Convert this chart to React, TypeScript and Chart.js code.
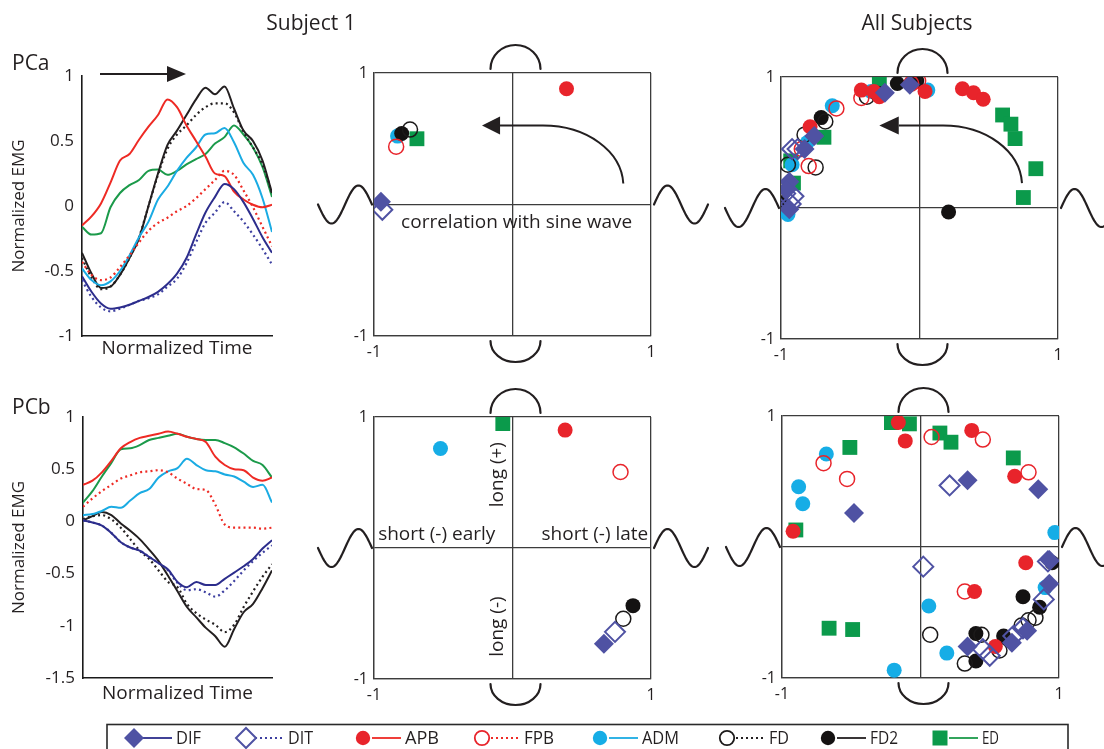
import React, { useEffect, useRef } from 'react';
import { Chart, registerables } from 'chart.js';

Chart.register(...registerables);

const FONT = '"Open Sans", "Noto Sans", "DejaVu Sans", sans-serif';
Chart.defaults.font.family = FONT;
Chart.defaults.color = '#231f20';
const INK = '#231f20';

// ---------------- data ----------------
const MUSCLES = ['DIF', 'DIT', 'APB', 'FPB', 'ADM', 'FD', 'FD2', 'ED'];
const TIME = [0, 0.05, 0.1, 0.15, 0.2, 0.25, 0.3, 0.35, 0.4, 0.45, 0.5, 0.55, 0.6, 0.65, 0.7, 0.75, 0.8, 0.85, 0.9, 0.95, 1];
const COLUMN_TITLES = ['Subject 1', 'All Subjects'];
const ROW_LABELS = ['PCa', 'PCb'];

// PCa waveforms (Subject 1)
const PCA_DIF = [-0.54, -0.66, -0.75, -0.79, -0.78, -0.76, -0.73, -0.7, -0.66, -0.6, -0.52, -0.4, -0.22, -0.05, 0.07, 0.17, 0.13, 0.03, -0.1, -0.24, -0.36];
const PCA_DIT = [-0.57, -0.7, -0.78, -0.81, -0.79, -0.76, -0.73, -0.71, -0.68, -0.62, -0.56, -0.44, -0.28, -0.13, -0.05, 0.03, -0.04, -0.12, -0.22, -0.33, -0.45];
const PCA_APB = [-0.15, -0.08, 0.02, 0.18, 0.35, 0.4, 0.51, 0.61, 0.7, 0.82, 0.76, 0.62, 0.5, 0.38, 0.25, 0.23, 0.11, 0.05, 0.01, -0.01, 0.01];
const PCA_FPB = [-0.43, -0.53, -0.57, -0.55, -0.47, -0.38, -0.28, -0.19, -0.13, -0.09, -0.04, 0.0, 0.06, 0.13, 0.2, 0.27, 0.24, 0.12, -0.01, -0.16, -0.31];
const PCA_ADM = [-0.48, -0.57, -0.61, -0.58, -0.5, -0.38, -0.24, -0.12, 0.05, 0.15, 0.27, 0.37, 0.45, 0.55, 0.56, 0.6, 0.49, 0.33, 0.24, 0.06, -0.2];
const PCA_FD = [-0.4, -0.55, -0.64, -0.62, -0.53, -0.4, -0.24, 0.0, 0.24, 0.44, 0.55, 0.62, 0.7, 0.76, 0.79, 0.79, 0.72, 0.57, 0.45, 0.32, 0.1];
const PCA_FD2 = [-0.36, -0.52, -0.63, -0.62, -0.53, -0.4, -0.25, 0.0, 0.25, 0.47, 0.58, 0.7, 0.82, 0.91, 0.86, 0.92, 0.75, 0.58, 0.5, 0.35, 0.1];
const PCA_ED = [-0.16, -0.22, -0.21, -0.01, 0.1, 0.16, 0.2, 0.27, 0.28, 0.24, 0.27, 0.32, 0.36, 0.4, 0.48, 0.53, 0.62, 0.55, 0.45, 0.3, 0.07];

// PCb waveforms (Subject 1)
const PCB_DIF = [0.01, -0.01, -0.04, -0.11, -0.2, -0.25, -0.28, -0.34, -0.4, -0.46, -0.58, -0.63, -0.58, -0.61, -0.61, -0.55, -0.49, -0.43, -0.36, -0.26, -0.18];
const PCB_DIT = [0.01, -0.01, -0.04, -0.11, -0.2, -0.25, -0.28, -0.34, -0.4, -0.47, -0.59, -0.66, -0.65, -0.68, -0.72, -0.66, -0.57, -0.47, -0.38, -0.3, -0.23];
const PCB_APB = [0.35, 0.39, 0.47, 0.58, 0.7, 0.76, 0.8, 0.82, 0.84, 0.86, 0.84, 0.81, 0.79, 0.76, 0.62, 0.54, 0.5, 0.49, 0.42, 0.39, 0.42];
const PCB_FPB = [0.14, 0.22, 0.29, 0.35, 0.41, 0.44, 0.47, 0.48, 0.49, 0.47, 0.41, 0.36, 0.31, 0.3, 0.16, -0.03, -0.06, -0.06, -0.06, -0.07, -0.06];
const PCB_ADM = [0.06, 0.07, 0.1, 0.14, 0.13, 0.2, 0.27, 0.31, 0.42, 0.48, 0.51, 0.6, 0.54, 0.49, 0.48, 0.45, 0.43, 0.38, 0.33, 0.35, 0.18];
const PCB_FD = [0.02, 0.05, 0.06, 0.02, -0.06, -0.17, -0.28, -0.36, -0.47, -0.58, -0.63, -0.79, -0.88, -0.94, -0.99, -1.06, -0.99, -0.82, -0.67, -0.53, -0.41];
const PCB_FD2 = [0.01, 0.05, 0.09, 0.06, -0.02, -0.09, -0.17, -0.27, -0.38, -0.52, -0.67, -0.82, -0.92, -1.02, -1.1, -1.2, -1.03, -0.87, -0.79, -0.64, -0.47];
const PCB_ED = [0.18, 0.29, 0.43, 0.56, 0.69, 0.7, 0.73, 0.78, 0.8, 0.82, 0.84, 0.81, 0.79, 0.78, 0.78, 0.75, 0.71, 0.65, 0.58, 0.54, 0.42];

// Subject 1, PCa: [correlation with sine, correlation with half-wave]
const S1A_DIF = [[-0.95, 0.02]];
const S1A_DIT = [[-0.94, -0.04]];
const S1A_APB = [[0.39, 0.88]];
const S1A_FPB = [[-0.84, 0.44]];
const S1A_ADM = [[-0.83, 0.52]];
const S1A_FD = [[-0.74, 0.57]];
const S1A_FD2 = [[-0.8, 0.54]];
const S1A_ED = [[-0.69, 0.5]];

// Subject 1, PCb
const S1B_DIF = [[0.66, -0.73]];
const S1B_DIT = [[0.74, -0.64]];
const S1B_APB = [[0.38, 0.9]];
const S1B_FPB = [[0.78, 0.58]];
const S1B_ADM = [[-0.52, 0.76]];
const S1B_FD = [[0.8, -0.54]];
const S1B_FD2 = [[0.87, -0.44]];
const S1B_ED = [[-0.07, 0.95]];

// All subjects, PCa
const ALLA_DIF = [[-0.25, 0.88], [-0.76, 0.55], [-0.83, 0.45], [-0.94, 0.2], [-0.94, -0.01], [-0.07, 0.94], [-0.96, 0.14]];
const ALLA_DIT = [[-0.92, 0.45], [-0.97, 0.11], [-0.91, 0.09], [-0.93, 0.03], [-0.88, 0.45]];
const ALLA_APB = [[0.31, 0.91], [0.39, 0.88], [0.46, 0.83], [-0.42, 0.9], [-0.29, 0.85], [0.04, 0.89], [-0.79, 0.62], [-0.33, 0.89]];
const ALLA_FPB = [[-0.42, 0.84], [-0.01, 0.97], [-0.6, 0.76], [-0.8, 0.32], [-0.85, 0.45], [-0.06, 0.95]];
const ALLA_ADM = [[-0.63, 0.78], [-0.35, 0.89], [0.06, 0.9], [-0.95, -0.05], [-0.81, 0.5], [-0.92, 0.33]];
const ALLA_FD = [[-0.3, 0.87], [-0.38, 0.85], [-0.68, 0.66], [-0.83, 0.56], [-0.75, 0.31], [-0.95, 0.33], [-0.04, 0.97]];
const ALLA_FD2 = [[-0.16, 0.95], [-0.02, 0.97], [-0.71, 0.69], [0.21, -0.03], [-0.99, 0.04]];
const ALLA_ED = [[-0.29, 0.95], [0.6, 0.71], [0.66, 0.64], [0.69, 0.53], [0.84, 0.3], [0.75, 0.08], [-0.69, 0.54], [-0.91, 0.19], [-0.93, 0.36]];

// All subjects, PCb
const ALLB_DIF = [[-0.48, 0.26], [0.34, 0.51], [0.85, 0.44], [0.93, -0.1], [0.93, -0.28], [0.34, -0.76], [0.66, -0.73], [0.77, -0.64]];
const ALLB_DIT = [[0.21, 0.47], [0.02, -0.15], [0.92, -0.11], [0.89, -0.4], [0.74, -0.62], [0.45, -0.78], [0.5, -0.83], [0.67, -0.68]];
const ALLB_APB = [[-0.16, 0.95], [-0.11, 0.81], [0.37, 0.89], [0.68, 0.54], [-0.92, 0.12], [0.76, -0.12], [0.39, -0.34], [0.54, -0.76]];
const ALLB_FPB = [[0.08, 0.84], [0.45, 0.82], [0.78, 0.57], [-0.7, 0.64], [-0.53, 0.52], [0.32, -0.34]];
const ALLB_ADM = [[-0.68, 0.71], [-0.88, 0.46], [-0.85, 0.33], [0.97, 0.11], [0.06, -0.45], [0.19, -0.81], [-0.19, -0.94], [0.9, -0.31]];
const ALLB_FD = [[0.07, -0.67], [0.32, -0.89], [0.44, -0.67], [0.57, -0.79], [0.78, -0.56], [0.83, -0.54], [0.73, -0.6]];
const ALLB_FD2 = [[0.74, -0.38], [0.86, -0.46], [0.95, -0.12], [0.4, -0.66], [0.6, -0.68], [0.4, -0.87]];
const ALLB_ED = [[-0.21, 0.95], [-0.08, 0.94], [0.14, 0.87], [0.22, 0.8], [-0.51, 0.76], [0.67, 0.68], [-0.9, 0.13], [-0.66, -0.62], [-0.49, -0.63]];

// ---------------- styles ----------------
const MARK_COLOR: Record<string, string> = { DIF: '#4f52a3', DIT: '#4f52a3', APB: '#e8242b', FPB: '#e8242b', ADM: '#16ade6', FD: '#1c1a1a', FD2: '#141212', ED: '#0b9a4b' };
const LINE_COLOR: Record<string, string> = { DIF: '#2c2d8c', DIT: '#3d3fa0', APB: '#ee2a24', FPB: '#ee2a24', ADM: '#1aabe3', FD: '#231f20', FD2: '#231f20', ED: '#1b9a4a' };
const DOTTED: Record<string, boolean> = { DIF: false, DIT: true, APB: false, FPB: true, ADM: false, FD: true, FD2: false, ED: false };
const SHAPE: Record<string, string> = { DIF: 'rectRot', DIT: 'rectRot', APB: 'circle', FPB: 'circle', ADM: 'circle', FD: 'circle', FD2: 'circle', ED: 'rect' };
const FILLED: Record<string, boolean> = { DIF: true, DIT: false, APB: true, FPB: false, ADM: true, FD: false, FD2: true, ED: true };
const RADIUS: Record<string, number> = { rectRot: 10, circle: 7.5, rect: 10.5 };
const DRAW_ORDER: Record<string, number> = { DIF: 0, DIT: 1, FPB: 2, APB: 3, FD: 4, FD2: 5, ADM: 6, ED: 7 };

type Rect = { x: number; y: number; w: number; h: number };
type Box = { l: number; t: number; r: number; b: number };

function frame(rect: Rect, box: Box) {
  return {
    padding: { left: 0, top: box.t - rect.y, right: rect.x + rect.w - box.r, bottom: 0 },
    yW: box.l - rect.x,
    xH: rect.y + rect.h - box.b,
  };
}

function text(ctx: CanvasRenderingContext2D, s: string, x: number, y: number, size: number, align: CanvasTextAlign = 'center', rot = 0) {
  ctx.save();
  ctx.fillStyle = INK;
  ctx.font = `${size}px ${FONT}`;
  ctx.textAlign = align;
  ctx.textBaseline = 'middle';
  ctx.translate(x, y);
  if (rot) ctx.rotate(rot);
  ctx.fillText(s, 0, 0);
  ctx.restore();
}

const tickText = (v: number) => String(v);

function lineConfig(rect: Rect, box: Box, series: number[][], yMin: number, titlePad: number, decor: (c: any) => void) {
  const f = frame(rect, box);
  return {
    type: 'line',
    data: {
      datasets: MUSCLES.map((m, i) => ({
        label: m,
        data: series[i].map((v, k) => ({ x: TIME[k], y: v })),
        borderColor: LINE_COLOR[m],
        borderWidth: DOTTED[m] ? 2.2 : 2,
        borderDash: DOTTED[m] ? [2, 3.2] : [],
        pointRadius: 0,
        cubicInterpolationMode: 'monotone',
        fill: false,
      })),
    },
    options: {
      animation: false,
      responsive: false,
      events: [],
      layout: { padding: f.padding },
      plugins: { legend: { display: false }, tooltip: { enabled: false } },
      scales: {
        x: {
          type: 'linear', min: 0, max: 1,
          ticks: { display: false },
          grid: { display: false, drawTicks: false },
          border: { display: true, color: '#1a1a1a', width: 1.6 },
          title: { display: true, text: 'Normalized Time', font: { size: 19 }, color: INK, padding: { top: 0, bottom: titlePad } },
          afterFit: (s: any) => { s.height = f.xH; },
        },
        y: {
          min: yMin, max: 1,
          ticks: { stepSize: 0.5, padding: 8, font: { size: 17 }, color: INK, callback: tickText },
          grid: { display: false, drawTicks: false },
          border: { display: true, color: '#1a1a1a', width: 1.6 },
          title: { display: true, text: 'Normalized EMG', font: { size: 17 }, color: INK, padding: { top: 9, bottom: 0 } },
          afterFit: (s: any) => { s.width = f.yW; },
        },
      },
    },
    plugins: [{ id: 'decor', afterDraw: (c: any) => decor(c) }],
  };
}

function scatterConfig(rect: Rect, box: Box, pts: number[][][], decor: (c: any) => void) {
  const f = frame(rect, box);
  const axis = (pad: number, fit: (s: any) => void) => ({
    type: 'linear', min: -1, max: 1,
    ticks: { stepSize: 1, padding: pad, font: { size: 16 }, color: INK, callback: (v: number) => (v === 0 ? '' : String(v)) },
    grid: { display: true, color: '#3c3c3c', lineWidth: 1.3, drawTicks: false },
    border: { display: true, color: '#3c3c3c', width: 1.3 },
    afterFit: fit,
  });
  return {
    type: 'scatter',
    data: {
      datasets: MUSCLES.map((m, i) => ({
        label: m,
        data: pts[i].map(([x, y]) => ({ x, y })),
        pointStyle: SHAPE[m],
        pointRadius: RADIUS[SHAPE[m]],
        backgroundColor: FILLED[m] ? MARK_COLOR[m] : 'rgba(255,255,255,0)',
        borderColor: MARK_COLOR[m],
        borderWidth: FILLED[m] ? 0 : (SHAPE[m] === 'rectRot' ? 2 : 1.5),
        order: DRAW_ORDER[m],
      })),
    },
    options: {
      animation: false,
      responsive: false,
      events: [],
      layout: { padding: f.padding },
      plugins: { legend: { display: false }, tooltip: { enabled: false } },
      scales: {
        x: axis(7, (s: any) => { s.height = f.xH; }),
        y: axis(6, (s: any) => { s.width = f.yW; }),
      },
    },
    plugins: [{ id: 'decor', afterDraw: (c: any) => decor(c) }],
  };
}

// waves on the horizontal axis, arcs on the vertical axis
function drawGlyphs(c: any) {
  const { ctx, chartArea: a, scales } = c;
  const y0 = scales.y.getPixelForValue(0);
  const cx = scales.x.getPixelForValue(0);
  const W = 54, A = 19, N = 80;
  ctx.save();
  ctx.strokeStyle = INK;
  ctx.lineWidth = 2.2;
  ctx.lineCap = 'round';
  ctx.beginPath();
  for (let i = 0; i <= N; i++) {
    const t = i / N;
    const px = a.left - 2 - W + W * t;
    const py = y0 + A * Math.sin(2 * Math.PI * t);
    if (i === 0) ctx.moveTo(px, py); else ctx.lineTo(px, py);
  }
  ctx.stroke();
  ctx.beginPath();
  for (let i = 0; i <= N; i++) {
    const t = i / N;
    const px = a.right + 3 + W * t;
    const py = y0 - A * Math.sin(2 * Math.PI * t);
    if (i === 0) ctx.moveTo(px, py); else ctx.lineTo(px, py);
  }
  ctx.stroke();
  ctx.beginPath();
  ctx.ellipse(cx + 3, a.top - 4, 25, 24, 0, Math.PI, 2 * Math.PI);
  ctx.stroke();
  ctx.beginPath();
  ctx.ellipse(cx + 3, a.bottom + 5, 25, 21, 0, 0, Math.PI);
  ctx.stroke();
  ctx.restore();
}

function drawCurvedArrow(c: any, start: number[], bend: number, base: number[], tip: number) {
  const { ctx, scales: { x, y } } = c;
  const sx = x.getPixelForValue(start[0]), sy = y.getPixelForValue(start[1]);
  const ex = x.getPixelForValue(bend), by = y.getPixelForValue(base[1]);
  const bx = x.getPixelForValue(base[0]), tx = x.getPixelForValue(tip);
  const rx = sx - ex, ry = sy - by, k = 0.5523;
  ctx.save();
  ctx.strokeStyle = INK;
  ctx.fillStyle = INK;
  ctx.lineWidth = 2;
  ctx.beginPath();
  ctx.moveTo(sx, sy);
  ctx.bezierCurveTo(sx - 2, sy - k * ry, ex + k * rx, by, ex, by);
  ctx.lineTo(bx, by);
  ctx.stroke();
  ctx.beginPath();
  ctx.moveTo(tx, by);
  ctx.lineTo(bx, by - 9);
  ctx.lineTo(bx, by + 9);
  ctx.closePath();
  ctx.fill();
  ctx.restore();
}

// ---------------- layout ----------------
const RH: Rect = { x: 0, y: 0, w: 1104, h: 40 };
const R1: Rect = { x: 0, y: 40, w: 290, h: 340 };
const R2: Rect = { x: 300, y: 40, w: 410, h: 340 };
const R3: Rect = { x: 710, y: 40, w: 394, h: 340 };
const R4: Rect = { x: 0, y: 380, w: 290, h: 335 };
const R5: Rect = { x: 300, y: 380, w: 410, h: 335 };
const R6: Rect = { x: 710, y: 380, w: 394, h: 335 };
const RL: Rect = { x: 0, y: 712, w: 1104, h: 37 };

const B1: Box = { l: 82, t: 76, r: 272, b: 336 };
const B2: Box = { l: 374, t: 73, r: 651, b: 336 };
const B3: Box = { l: 781, t: 77, r: 1058, b: 339 };
const B4: Box = { l: 83, t: 417, r: 272, b: 678 };
const B5: Box = { l: 374, t: 417, r: 651, b: 679 };
const B6: Box = { l: 782, t: 416, r: 1059, b: 678 };

const LEGEND_X = [134, 246, 363, 482, 600, 727, 828, 940];
const LEGEND_TEXT_W = [25, 25, 34, 30, 37, 20, 28, 17];

function drawMarker(ctx: CanvasRenderingContext2D, m: string, x: number, y: number) {
  ctx.save();
  ctx.fillStyle = MARK_COLOR[m];
  ctx.strokeStyle = MARK_COLOR[m];
  ctx.lineWidth = SHAPE[m] === 'rectRot' ? 2 : 1.8;
  ctx.beginPath();
  if (SHAPE[m] === 'rectRot') {
    const r = 10;
    ctx.moveTo(x, y - r); ctx.lineTo(x + r, y); ctx.lineTo(x, y + r); ctx.lineTo(x - r, y); ctx.closePath();
  } else if (SHAPE[m] === 'rect') {
    ctx.rect(x - 7.5, y - 7.5, 15, 15);
  } else {
    ctx.arc(x, y, 7.2, 0, Math.PI * 2);
  }
  if (FILLED[m]) ctx.fill(); else ctx.stroke();
  ctx.restore();
}

function blankConfig(id: string, draw: (ctx: CanvasRenderingContext2D) => void) {
  return {
    type: 'scatter',
    data: { datasets: [] },
    options: {
      animation: false, responsive: false, events: [],
      plugins: { legend: { display: false }, tooltip: { enabled: false } },
      scales: { x: { display: false }, y: { display: false } },
    },
    plugins: [{ id, afterDraw: (c: any) => draw(c.ctx) }],
  };
}

function drawLegend(ctx: CanvasRenderingContext2D) {
  const oy = RL.y;
  ctx.save();
  ctx.strokeStyle = '#2a2a2a';
  ctx.lineWidth = 1.6;
  ctx.strokeRect(107, 724.5 - oy, 1068 - 107, 60);
  const yc = 738 - oy;
  MUSCLES.forEach((m, i) => {
    const x = LEGEND_X[i];
    ctx.save();
    ctx.strokeStyle = LINE_COLOR[m];
    ctx.lineWidth = 1.8;
    ctx.setLineDash(DOTTED[m] ? [2, 3] : []);
    ctx.beginPath();
    ctx.moveTo(x + 9, yc);
    ctx.lineTo(x + 38, yc);
    ctx.stroke();
    ctx.restore();
    drawMarker(ctx, m, x, yc);
    ctx.fillStyle = INK;
    ctx.font = `19px ${FONT}`;
    ctx.textAlign = 'left';
    ctx.textBaseline = 'middle';
    ctx.fillText(m, x + 42, yc + 1, LEGEND_TEXT_W[i]);
  });
  ctx.restore();
}

function drawHeader(ctx: CanvasRenderingContext2D) {
  text(ctx, COLUMN_TITLES[0], 311, 24, 21);
  text(ctx, COLUMN_TITLES[1], 917, 24, 21);
}

function ChartCanvas({ rect, build }: { rect: Rect; build: () => any }) {
  const ref = useRef<HTMLCanvasElement | null>(null);
  useEffect(() => {
    const chart = new Chart(ref.current as HTMLCanvasElement, build());
    return () => chart.destroy();
  }, []);
  return (
    <canvas
      ref={ref}
      width={rect.w}
      height={rect.h}
      style={{ position: 'absolute', left: rect.x, top: rect.y, width: rect.w, height: rect.h }}
    />
  );
}

export default function App() {
  const pcaSeries = [PCA_DIF, PCA_DIT, PCA_APB, PCA_FPB, PCA_ADM, PCA_FD, PCA_FD2, PCA_ED];
  const pcbSeries = [PCB_DIF, PCB_DIT, PCB_APB, PCB_FPB, PCB_ADM, PCB_FD, PCB_FD2, PCB_ED];
  const s1a = [S1A_DIF, S1A_DIT, S1A_APB, S1A_FPB, S1A_ADM, S1A_FD, S1A_FD2, S1A_ED];
  const s1b = [S1B_DIF, S1B_DIT, S1B_APB, S1B_FPB, S1B_ADM, S1B_FD, S1B_FD2, S1B_ED];
  const alla = [ALLA_DIF, ALLA_DIT, ALLA_APB, ALLA_FPB, ALLA_ADM, ALLA_FD, ALLA_FD2, ALLA_ED];
  const allb = [ALLB_DIF, ALLB_DIT, ALLB_APB, ALLB_FPB, ALLB_ADM, ALLB_FD, ALLB_FD2, ALLB_ED];

  return (
    <div style={{ position: 'absolute', left: 0, top: 0, width: 1104, height: 749, background: '#ffffff', overflow: 'hidden' }}>
      <ChartCanvas rect={RH} build={() => blankConfig('header', drawHeader)} />
      <ChartCanvas rect={R1} build={() => lineConfig(R1, B1, pcaSeries, -1, 20, (c) => {
        const ctx = c.ctx;
        const oy = R1.y;
        text(ctx, ROW_LABELS[0], 12, 64 - oy, 21, 'left');
        ctx.save();
        ctx.strokeStyle = INK; ctx.fillStyle = INK; ctx.lineWidth = 2;
        ctx.beginPath(); ctx.moveTo(100, 74 - oy); ctx.lineTo(168, 74 - oy); ctx.stroke();
        ctx.beginPath(); ctx.moveTo(186, 74 - oy); ctx.lineTo(167, 66 - oy); ctx.lineTo(167, 82 - oy); ctx.closePath(); ctx.fill();
        ctx.restore();
      })} />
      <ChartCanvas rect={R2} build={() => scatterConfig(R2, B2, s1a, (c) => {
        drawGlyphs(c);
        drawCurvedArrow(c, [0.8, 0.16], 0.22, [-0.09, 0.6], -0.22);
        text(c.ctx, 'correlation with sine wave', c.scales.x.getPixelForValue(0.03), c.scales.y.getPixelForValue(-0.14), 19);
      })} />
      <ChartCanvas rect={R3} build={() => scatterConfig(R3, B3, alla, (c) => {
        drawGlyphs(c);
        drawCurvedArrow(c, [0.74, 0.19], 0.17, [-0.15, 0.63], -0.29);
      })} />
      <ChartCanvas rect={R4} build={() => lineConfig(R4, B4, pcbSeries, -1.5, 10, (c) => {
        text(c.ctx, ROW_LABELS[1], 12, 408 - R4.y, 21, 'left');
      })} />
      <ChartCanvas rect={R5} build={() => scatterConfig(R5, B5, s1b, (c) => {
        drawGlyphs(c);
        const { x, y } = c.scales;
        text(c.ctx, 'short (-) early', x.getPixelForValue(-0.97), y.getPixelForValue(0.1), 19, 'left');
        text(c.ctx, 'short (-) late', x.getPixelForValue(0.98), y.getPixelForValue(0.1), 19, 'right');
        text(c.ctx, 'long (+)', x.getPixelForValue(-0.11), y.getPixelForValue(0.56), 19, 'center', -Math.PI / 2);
        text(c.ctx, 'long (-)', x.getPixelForValue(-0.11), y.getPixelForValue(-0.6), 19, 'center', -Math.PI / 2);
      })} />
      <ChartCanvas rect={R6} build={() => scatterConfig(R6, B6, allb, (c) => {
        drawGlyphs(c);
      })} />
      <ChartCanvas rect={RL} build={() => blankConfig('legend', drawLegend)} />
    </div>
  );
}
